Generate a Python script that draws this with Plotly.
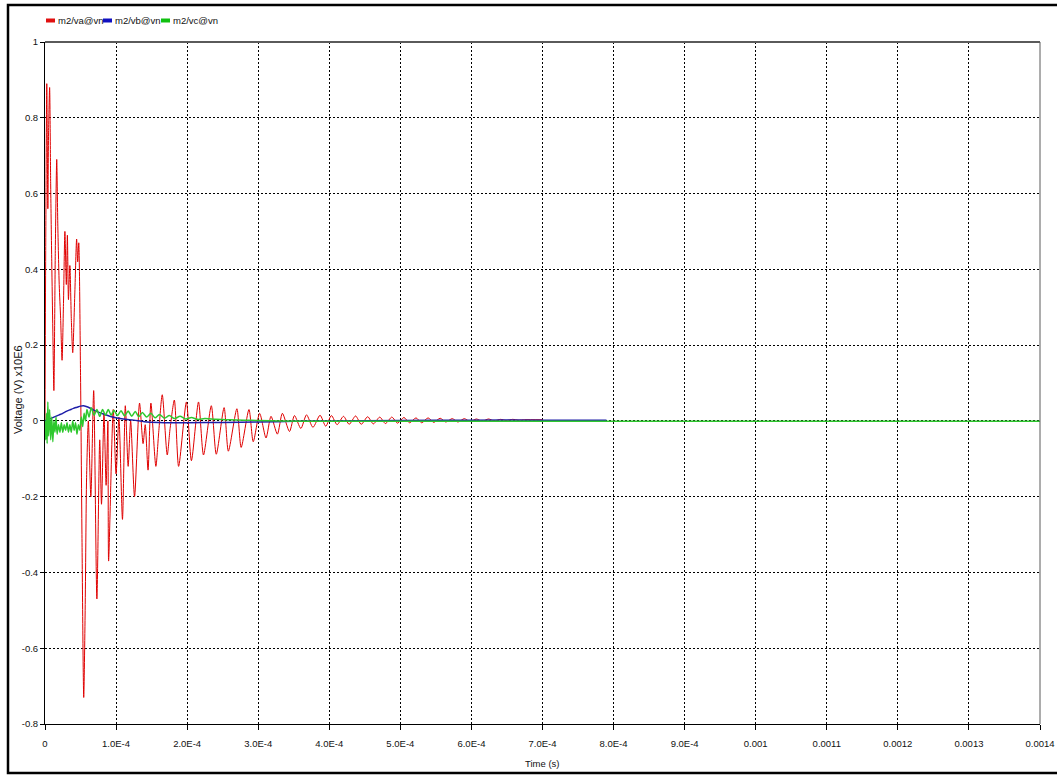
import plotly.graph_objects as go

# Phase-to-neutral voltages at node m2 (time in microseconds, voltage in units of 1E6 V)
va_t_us = [
    0, 1.0, 2.5, 4.0, 5.0, 6.5, 8.0, 9.5, 11.0, 12.5,
    14.5, 16.5, 18.0, 20.0, 22.0, 24.0, 26.0, 28.0, 30.0, 31.5,
    33.0, 35.0, 37.0, 39.0, 42.0, 44.5, 46.0, 47.5, 50.0, 52.0,
    54.5, 56.5, 58.5, 61.0, 64.5, 68.5, 73.0, 77.0, 79.5, 83.0,
    86.0, 88.5, 89.5, 96.0, 100.0, 104.0, 109.0, 113.0, 117.0, 120.5,
    126.0, 133.0, 138.0, 141.0, 145.0, 149.0, 156.0, 160.0, 165.0, 172.0,
    176.0, 182.0, 188.0, 199.0, 206.0, 216.0, 223.0, 234.0, 241.0, 252.0,
    258.0, 270.0, 276.0, 287.0, 293.0, 302.0, 311.0, 318.0, 327.0, 334.0,
    344.0, 351.0, 360.0, 368.0, 377.0, 387.0, 395.0, 403.0, 411.0, 420.0,
    428.0, 437.0, 445.0, 454.0, 462.0, 471.0, 479.0, 488.0, 496.0, 505.0,
    513.0, 522.0, 530.0, 539.0, 547.0, 556.0, 564.0, 573.0, 581.0, 590.0,
    598.0, 607.0, 615.0, 624.0, 632.0, 641.0, 649.0, 658.0, 666.0, 675.0,
    700.0,
]
va_v = [
    0.0, 0.45, 0.89, 0.56, 0.76, 0.88, 0.62, 0.42, 0.24, 0.08,
    0.45, 0.69, 0.52, 0.36, 0.27, 0.16, 0.31, 0.50, 0.36, 0.49,
    0.32, 0.41, 0.27, 0.18, 0.34, 0.48, 0.42, 0.47, 0.12, -0.30,
    -0.73, -0.50, -0.15, 0.00, -0.20, 0.08, -0.47, -0.05, -0.22, 0.02,
    -0.17, 0.00, -0.37, 0.03, -0.14, 0.01, -0.26, 0.04, -0.12, 0.00,
    -0.20, 0.047, -0.06, -0.01, -0.13, 0.047, -0.12, -0.03, 0.069, -0.09,
    -0.02, 0.055, -0.12, 0.05, -0.105, 0.05, -0.09, 0.04, -0.088, 0.035,
    -0.08, 0.032, -0.07, 0.03, -0.055, 0.02, -0.045, 0.012, -0.035, 0.02,
    -0.028, 0.014, -0.02, 0.016, -0.017, 0.015, -0.014, 0.014, -0.010, 0.012,
    -0.009, 0.013, -0.009, 0.011, -0.008, 0.010, -0.007, 0.010, -0.006, 0.009,
    -0.005, 0.008, -0.005, 0.008, -0.004, 0.007, -0.003, 0.006, -0.003, 0.006,
    -0.002, 0.005, -0.001, 0.005, 0.000, 0.004, 0.001, 0.004, 0.002, 0.003,
    0.003,
]

vb_t_us = [
    0, 5, 10, 15, 20, 25, 30, 35, 40, 45,
    50, 54, 58, 63, 68, 75, 85, 95, 110, 125,
    140, 160, 200, 250, 300, 350, 400, 500, 600, 700,
    790,
]
vb_v = [
    0.0, 0.004, 0.008, 0.012, 0.016, 0.02, 0.025, 0.029, 0.033, 0.036,
    0.039, 0.040, 0.038, 0.034, 0.029, 0.023, 0.016, 0.010, 0.005, 0.002,
    -0.002, -0.004, -0.005, -0.004, -0.003, -0.001, 0.0, 0.001, 0.002, 0.002,
    0.002,
]

vc_t_us = [
    0, 1, 2, 3, 4, 5, 6.5, 8, 9.5, 11,
    12.5, 14, 15.5, 17, 19, 21, 23, 25, 27, 29,
    31, 33, 35, 37, 39, 41, 43, 45, 47, 49,
    51, 53, 55, 57, 59, 62, 65, 69, 73, 77,
    81, 85, 89, 93, 97, 102, 107, 112, 117, 122,
    127, 132, 137, 143, 149, 155, 161, 168, 175, 182,
    190, 198, 206, 215, 225, 240, 260, 280, 300, 330,
    400, 600, 800, 1000, 1200, 1400,
]
vc_v = [
    0.0, -0.05, 0.02, -0.06, 0.05, -0.04, 0.03, -0.05, 0.01, -0.055,
    0.0, -0.03, 0.01, -0.035, -0.01, -0.03, -0.005, -0.03, -0.01, -0.025,
    -0.005, -0.03, -0.01, -0.03, 0.0, -0.025, -0.005, -0.035, -0.01, -0.025,
    0.01, -0.015, 0.02, 0.0, 0.03, 0.01, 0.035, 0.015, 0.03, 0.012,
    0.03, 0.015, 0.03, 0.015, 0.028, 0.014, 0.027, 0.013, 0.026, 0.012,
    0.025, 0.011, 0.022, 0.01, 0.02, 0.008, 0.017, 0.007, 0.014, 0.006,
    0.012, 0.005, 0.009, 0.004, 0.006, 0.004, 0.003, 0.002, 0.001, 0.0,
    -0.001, -0.001, -0.001, -0.001, -0.001, -0.001,
]

series_names = ["m2/va@vn", "m2/vb@vn", "m2/vc@vn"]
series_colors = ["#e00000", "#1e1ea8", "#2ec82e"]
swatch_colors = ["#e01010", "#1010c0", "#10c010"]

x_tickvals = [0, 1e-4, 2e-4, 3e-4, 4e-4, 5e-4, 6e-4, 7e-4, 8e-4, 9e-4,
              1e-3, 1.1e-3, 1.2e-3, 1.3e-3, 1.4e-3]
x_ticktext = ["0", "1.0E-4", "2.0E-4", "3.0E-4", "4.0E-4", "5.0E-4", "6.0E-4",
              "7.0E-4", "8.0E-4", "9.0E-4", "0.001", "0.0011", "0.0012",
              "0.0013", "0.0014"]
y_tickvals = [-0.8, -0.6, -0.4, -0.2, 0, 0.2, 0.4, 0.6, 0.8, 1]
y_ticktext = ["-0.8", "-0.6", "-0.4", "-0.2", "0", "0.2", "0.4", "0.6", "0.8", "1"]

W, H = 1057, 776
ML, MR, MT, MB = 45, 17, 42, 52
PW, PH = W - ML - MR, H - MT - MB


def px(xp):
    return (xp - ML) / PW


def py(yp):
    return (H - MB - yp) / PH


FONT = "Liberation Sans, Arial, sans-serif"

fig = go.Figure()
for t_us, v, name, color, width in [
    (va_t_us, va_v, series_names[0], series_colors[0], 1.0),
    (vb_t_us, vb_v, series_names[1], series_colors[1], 1.5),
    (vc_t_us, vc_v, series_names[2], series_colors[2], 1.5),
]:
    fig.add_trace(go.Scatter(
        x=[u * 1e-6 for u in t_us], y=v, mode="lines", name=name,
        line=dict(color=color, width=width, shape="spline", smoothing=0.7),
        showlegend=False,
    ))

axis_common = dict(
    showgrid=True, gridcolor="#000000", gridwidth=1, griddash="2px,2px",
    zeroline=False, showline=True, linecolor="#000000", linewidth=1,
    ticks="outside", tickcolor="#000000", tickwidth=1, automargin=False,
    tickfont=dict(family=FONT, size=9.5, color="#111111"),
)

fig.update_xaxes(range=[0, 0.0014], tickmode="array", tickvals=x_tickvals,
                 ticktext=x_ticktext, ticklen=5, ticklabelstandoff=6,
                 **axis_common)
fig.update_yaxes(range=[-0.8, 1], tickmode="array", tickvals=y_tickvals,
                 ticktext=y_ticktext, ticklen=4, **axis_common)

shapes = [
    # upper and right edges of the plotting area
    dict(type="line", xref="paper", yref="paper", x0=0, x1=1, y0=1, y1=1,
         line=dict(color="#5a5a5a", width=2)),
    dict(type="line", xref="paper", yref="paper", x0=1, x1=1, y0=0, y1=1,
         line=dict(color="#5a5a5a", width=1)),
    # outer frame (its right side runs past the page edge)
    dict(type="rect", xref="paper", yref="paper", x0=px(8), x1=px(1064),
         y0=py(773), y1=py(5), line=dict(color="#000000", width=2.5)),
]

annotations = []
# legend row: colour swatch followed by series label
legend_x = [46, 103, 161]
for lx, name, sc in zip(legend_x, series_names, swatch_colors):
    shapes.append(dict(type="rect", xref="paper", yref="paper",
                       x0=px(lx), x1=px(lx + 9), y0=py(22.5), y1=py(18.5),
                       fillcolor=sc, line=dict(width=0)))
    annotations.append(dict(text=name, xref="paper", yref="paper",
                            x=px(lx + 9.5), y=py(20.5), xanchor="left",
                            yanchor="middle", showarrow=False,
                            font=dict(family=FONT, size=9.5, color="#111111")))

annotations.append(dict(text="Time (s)", xref="paper", yref="paper",
                        x=px(542), y=py(763), xanchor="center", yanchor="middle",
                        showarrow=False,
                        font=dict(family=FONT, size=9.5, color="#111111")))
annotations.append(dict(text="Voltage (V) x10E6", xref="paper", yref="paper",
                        x=px(18), y=py(390), xanchor="center", yanchor="middle",
                        textangle=-90, showarrow=False,
                        font=dict(family=FONT, size=11, color="#111111")))

fig.update_layout(
    width=W, height=H,
    margin=dict(l=ML, r=MR, t=MT, b=MB),
    paper_bgcolor="#ffffff", plot_bgcolor="#ffffff",
    shapes=shapes, annotations=annotations,
    showlegend=False,
)

fig.write_html("out.html")
